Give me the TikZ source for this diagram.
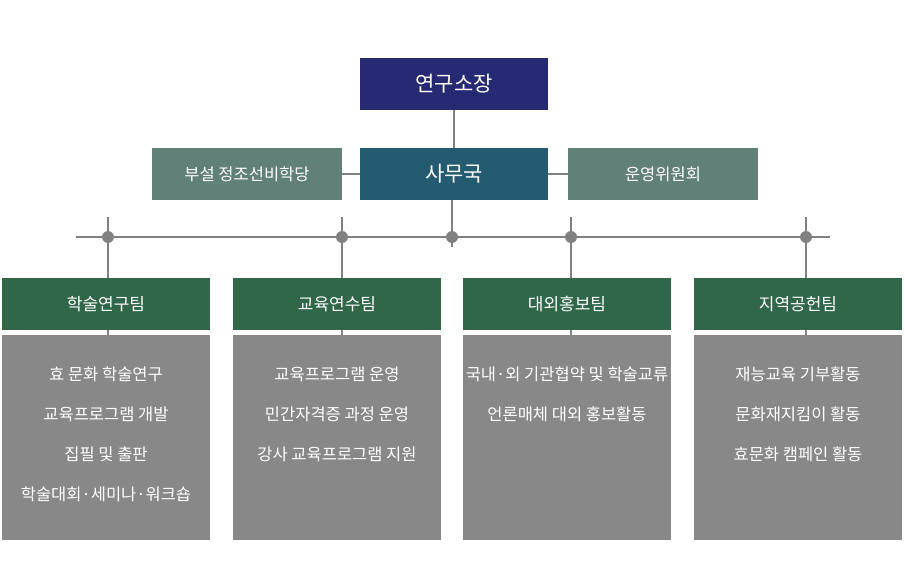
\documentclass[tikz,border=0pt]{standalone}
\usepackage{fontspec}
\setmainfont{Noto Sans CJK KR}
\usetikzlibrary{positioning,backgrounds}
\definecolor{headblue}{RGB}{38,42,114}
\definecolor{officeteal}{RGB}{36,91,112}
\definecolor{sidegreen}{RGB}{96,128,120}
\definecolor{teamgreen}{RGB}{47,103,72}
\definecolor{infogray}{RGB}{136,136,136}
\definecolor{linegray}{RGB}{128,128,128}

\begin{document}
\begin{tikzpicture}[x=1pt,y=-1pt,font=\fontsize{16.5}{20}\selectfont,
  box/.style={minimum height=52pt,inner sep=0pt,text=white},
  topbox/.style={box,minimum width=188pt,font=\fontsize{21}{24}\selectfont},
  sidebox/.style={box,minimum width=190pt,fill=sidegreen},
  teambox/.style={box,minimum width=208pt,fill=teamgreen,font=\fontsize{17}{20}\selectfont},
  infobox/.style={minimum width=208pt,minimum height=205pt,inner sep=0pt,fill=infogray},
  infotext/.style={anchor=north,inner sep=0pt,align=center,text=white,font=\fontsize{16.5}{40}\selectfont},
  joint/.style={circle,fill=linegray,minimum size=12pt,inner sep=0pt},
  link/.style={draw=linegray,line width=1.2pt}]
\useasboundingbox (0,0) rectangle (905,567);

\node[topbox,fill=headblue] (head) at (454,84) {연구소장};
\node[topbox,fill=officeteal] (office) at (454,174) {사무국};
\node[sidebox] (school) at (247,174) {부설 정조선비학당};
\node[sidebox] (board) at (663,174) {운영위원회};

\node[teambox] (team1) at (106,304) {학술연구팀};
\node[teambox] (team2) at (337,304) {교육연수팀};
\node[teambox] (team3) at (567,304) {대외홍보팀};
\node[teambox] (team4) at (798,304) {지역공헌팀};

\node[infobox,below=5pt of team1] (info1) {};
\node[infobox,below=5pt of team2] (info2) {};
\node[infobox,below=5pt of team3] (info3) {};
\node[infobox,below=5pt of team4] (info4) {};

\node[infotext] (text1) at ([yshift=-31pt]info1.north) {효 문화 학술연구\\교육프로그램 개발\\집필 및 출판\\학술대회·세미나·워크숍};
\node[infotext] (text2) at ([yshift=-31pt]info2.north) {교육프로그램 운영\\민간자격증 과정 운영\\강사 교육프로그램 지원};
\node[infotext] (text3) at ([yshift=-31pt]info3.north) {국내·외 기관협약 및 학술교류\\언론매체 대외 홍보활동};
\node[infotext] (text4) at ([yshift=-31pt]info4.north) {재능교육 기부활동\\문화재지킴이 활동\\효문화 캠페인 활동};

\coordinate (busL) at (76,237);
\coordinate (busR) at (830,237);
\node[joint] (j1) at (108,237) {};
\node[joint] (j2) at (342,237) {};
\node[joint] (j3) at (452,237) {};
\node[joint] (j4) at (571,237) {};
\node[joint] (j5) at (806,237) {};

\begin{scope}[on background layer]
\draw[link] (head) -- (office);
\draw[link] (school) -- (office);
\draw[link] (office) -- (board);
\draw[link] (busL) -- (busR);
\draw[link] (office.south -| j3) -- ([yshift=-10pt]j3.center);
\draw[link] ([yshift=20pt]j1.center) -- (j1 |- info1.north);
\draw[link] ([yshift=20pt]j2.center) -- (j2 |- info2.north);
\draw[link] ([yshift=20pt]j4.center) -- (j4 |- info3.north);
\draw[link] ([yshift=20pt]j5.center) -- (j5 |- info4.north);
\end{scope}
\end{tikzpicture}
\end{document}
